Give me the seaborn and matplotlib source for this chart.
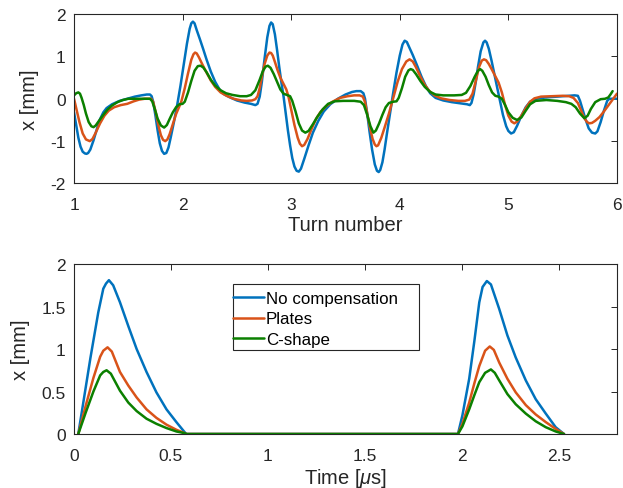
import matplotlib
matplotlib.use("Agg")
import matplotlib.pyplot as plt
from matplotlib.patches import Rectangle
from matplotlib.ticker import FixedLocator, FixedFormatter
import pandas as pd
import seaborn as sns

# ---------------------------------------------------------------- data
series_names = ["No compensation", "Plates", "C-shape"]
series_colors = ["#0072BD", "#D95319", "#0B8000"]

# Orbit excursion over five turns (turn number, x in mm)
turn_nocomp = [1.00, 1.02, 1.04, 1.06, 1.08, 1.10, 1.115, 1.13, 1.15, 1.18, 1.21, 1.24, 1.27, 1.30, 1.35,
               1.42, 1.49, 1.56, 1.62, 1.67, 1.70, 1.715, 1.73, 1.75, 1.77, 1.79, 1.81, 1.83, 1.85, 1.87,
               1.89, 1.92, 1.95, 1.98, 2.01, 2.04, 2.065, 2.08, 2.095, 2.11, 2.13, 2.16, 2.19, 2.22, 2.26,
               2.30, 2.34, 2.38, 2.43, 2.50, 2.57, 2.63, 2.67, 2.69, 2.71, 2.73, 2.755, 2.78, 2.80, 2.815,
               2.83, 2.85, 2.87, 2.89, 2.91, 2.93, 2.95, 2.97, 2.99, 3.01, 3.03, 3.05, 3.07, 3.09, 3.12,
               3.16, 3.20, 3.25, 3.30, 3.36, 3.43, 3.50, 3.56, 3.60, 3.64, 3.665, 3.68, 3.70, 3.72, 3.745,
               3.77, 3.79, 3.806, 3.82, 3.84, 3.86, 3.88, 3.91, 3.94, 3.97, 4.00, 4.025, 4.045, 4.065, 4.09,
               4.12, 4.16, 4.20, 4.24, 4.28, 4.33, 4.40, 4.48, 4.56, 4.62, 4.645, 4.66, 4.68, 4.70, 4.72,
               4.745, 4.77, 4.785, 4.80, 4.82, 4.845, 4.87, 4.89, 4.92, 4.95, 4.98, 5.00, 5.025, 5.05, 5.08,
               5.12, 5.16, 5.20, 5.26, 5.34, 5.45, 5.55, 5.61, 5.64, 5.66, 5.68, 5.71, 5.74, 5.77, 5.80,
               5.82, 5.85, 5.88, 5.91, 5.93, 6.00]
x_nocomp = [-0.32, -0.62, -0.92, -1.13, -1.25, -1.29, -1.30, -1.28, -1.20, -0.98, -0.72, -0.48, -0.32, -0.22, -0.13,
            -0.05, 0.00, 0.05, 0.08, 0.10, 0.10, 0.06, -0.08, -0.40, -0.75, -1.05, -1.23, -1.30, -1.28, -1.15,
            -0.92, -0.55, -0.15, 0.30, 0.80, 1.30, 1.65, 1.78, 1.82, 1.78, 1.62, 1.40, 1.17, 0.93, 0.64,
            0.40, 0.22, 0.11, 0.04, -0.04, -0.09, -0.12, -0.15, -0.12, 0.05, 0.40, 0.95, 1.45, 1.72, 1.80,
            1.76, 1.52, 1.15, 0.75, 0.38, 0.05, -0.35, -0.75, -1.10, -1.40, -1.60, -1.70, -1.72, -1.65, -1.42,
            -1.10, -0.80, -0.52, -0.30, -0.13, 0.00, 0.10, 0.16, 0.18, 0.18, 0.13, 0.00, -0.35, -0.75, -1.20,
            -1.55, -1.70, -1.73, -1.68, -1.50, -1.20, -0.85, -0.35, 0.15, 0.62, 1.02, 1.28, 1.37, 1.34, 1.20,
            1.03, 0.78, 0.52, 0.30, 0.13, 0.02, -0.04, -0.08, -0.11, -0.13, -0.15, -0.10, 0.10, 0.40, 0.75,
            1.12, 1.33, 1.37, 1.33, 1.18, 0.90, 0.60, 0.35, -0.02, -0.38, -0.65, -0.76, -0.82, -0.79, -0.64,
            -0.40, -0.20, -0.07, 0.00, 0.03, 0.05, 0.07, 0.08, 0.07, -0.05, -0.22, -0.48, -0.70, -0.80, -0.82,
            -0.77, -0.55, -0.28, -0.05, 0.00, 0.00]

turn_plates = [1.00, 1.02, 1.05, 1.08, 1.11, 1.145, 1.17, 1.20, 1.24, 1.28, 1.32, 1.37, 1.43, 1.49, 1.55,
               1.60, 1.65, 1.71, 1.73, 1.755, 1.78, 1.80, 1.82, 1.84, 1.86, 1.88, 1.91, 1.94, 1.97, 1.99,
               2.02, 2.05, 2.08, 2.10, 2.115, 2.13, 2.15, 2.18, 2.22, 2.26, 2.30, 2.35, 2.405, 2.47, 2.54,
               2.59, 2.64, 2.67, 2.69, 2.71, 2.73, 2.755, 2.78, 2.80, 2.815, 2.83, 2.85, 2.875, 2.90, 2.93,
               2.955, 2.975, 3.00, 3.03, 3.06, 3.08, 3.10, 3.12, 3.15, 3.19, 3.23, 3.27, 3.32, 3.38, 3.45,
               3.52, 3.58, 3.63, 3.66, 3.68, 3.70, 3.725, 3.75, 3.77, 3.785, 3.80, 3.83, 3.86, 3.90, 3.94,
               3.98, 4.02, 4.06, 4.09, 4.12, 4.15, 4.19, 4.23, 4.27, 4.32, 4.38, 4.46, 4.54, 4.60, 4.64,
               4.67, 4.70, 4.73, 4.755, 4.775, 4.795, 4.82, 4.85, 4.88, 4.91, 4.94, 4.97, 5.00, 5.03, 5.055,
               5.08, 5.12, 5.16, 5.20, 5.24, 5.30, 5.40, 5.50, 5.56, 5.60, 5.64, 5.67, 5.70, 5.725, 5.745,
               5.77, 5.80, 5.84, 5.88, 5.92, 5.96, 6.00]
x_plates = [0.00, -0.22, -0.55, -0.82, -0.96, -1.00, -0.95, -0.80, -0.58, -0.40, -0.28, -0.20, -0.15, -0.12, -0.06,
            -0.02, 0.00, 0.00, -0.08, -0.35, -0.66, -0.86, -0.97, -1.00, -0.96, -0.84, -0.60, -0.36, -0.18, -0.05,
            0.25, 0.60, 0.92, 1.05, 1.09, 1.07, 0.98, 0.82, 0.62, 0.43, 0.28, 0.15, 0.07, 0.00, -0.04,
            -0.05, -0.04, -0.01, 0.06, 0.25, 0.52, 0.82, 1.02, 1.09, 1.08, 1.02, 0.87, 0.67, 0.50, 0.35,
            0.22, 0.05, -0.25, -0.62, -0.92, -1.06, -1.12, -1.09, -0.95, -0.70, -0.47, -0.31, -0.18, -0.07, 0.02,
            0.06, 0.08, 0.08, 0.05, -0.08, -0.35, -0.68, -0.95, -1.08, -1.12, -1.10, -0.92, -0.68, -0.35, 0.02,
            0.40, 0.70, 0.88, 0.93, 0.88, 0.74, 0.52, 0.33, 0.19, 0.08, 0.01, -0.03, -0.05, -0.05, -0.02,
            0.12, 0.42, 0.75, 0.90, 0.93, 0.91, 0.82, 0.68, 0.53, 0.38, 0.15, -0.15, -0.40, -0.54, -0.58,
            -0.54, -0.40, -0.22, -0.07, 0.01, 0.05, 0.06, 0.07, 0.06, 0.02, -0.10, -0.28, -0.46, -0.55, -0.58,
            -0.57, -0.52, -0.43, -0.30, -0.16, -0.02, 0.12]

turn_cshape = [1.00, 1.02, 1.04, 1.055, 1.07, 1.09, 1.11, 1.135, 1.16, 1.18, 1.20, 1.23, 1.27, 1.31, 1.35,
               1.40, 1.45, 1.50, 1.60, 1.70, 1.72, 1.745, 1.77, 1.80, 1.83, 1.855, 1.88, 1.91, 1.94, 1.97,
               2.00, 2.02, 2.05, 2.08, 2.11, 2.14, 2.165, 2.19, 2.22, 2.26, 2.30, 2.35, 2.40, 2.46, 2.53,
               2.59, 2.63, 2.67, 2.71, 2.74, 2.765, 2.785, 2.81, 2.84, 2.87, 2.90, 2.93, 2.96, 2.99, 3.01,
               3.04, 3.07, 3.10, 3.13, 3.16, 3.20, 3.24, 3.29, 3.34, 3.40, 3.48, 3.58, 3.64, 3.67, 3.70,
               3.73, 3.757, 3.78, 3.81, 3.84, 3.87, 3.90, 3.94, 3.97, 3.99, 4.02, 4.05, 4.08, 4.10, 4.12,
               4.15, 4.19, 4.23, 4.28, 4.33, 4.40, 4.50, 4.57, 4.61, 4.65, 4.69, 4.72, 4.74, 4.76, 4.79,
               4.82, 4.85, 4.88, 4.91, 4.94, 4.97, 5.00, 5.04, 5.08, 5.12, 5.16, 5.20, 5.25, 5.35, 5.45,
               5.53, 5.58, 5.62, 5.66, 5.70, 5.73, 5.76, 5.80, 5.85, 5.89, 5.92, 5.94, 5.96]
x_cshape = [0.08, 0.13, 0.15, 0.12, 0.02, -0.15, -0.35, -0.55, -0.65, -0.67, -0.63, -0.52, -0.38, -0.25, -0.16,
            -0.08, -0.03, 0.00, 0.00, 0.00, -0.06, -0.25, -0.47, -0.63, -0.68, -0.62, -0.48, -0.32, -0.20, -0.13,
            -0.12, -0.07, 0.15, 0.42, 0.66, 0.77, 0.78, 0.74, 0.63, 0.45, 0.31, 0.20, 0.13, 0.09, 0.06,
            0.06, 0.09, 0.20, 0.45, 0.66, 0.76, 0.78, 0.73, 0.58, 0.40, 0.22, 0.12, 0.09, 0.06, -0.05,
            -0.30, -0.58, -0.75, -0.80, -0.76, -0.60, -0.43, -0.25, -0.12, -0.06, -0.05, -0.05, -0.07, -0.15, -0.38,
            -0.65, -0.80, -0.75, -0.58, -0.38, -0.20, -0.10, -0.07, -0.06, 0.02, 0.25, 0.52, 0.67, 0.70, 0.68,
            0.58, 0.42, 0.28, 0.16, 0.10, 0.08, 0.08, 0.09, 0.14, 0.30, 0.52, 0.66, 0.70, 0.66, 0.52,
            0.32, 0.15, 0.07, 0.05, 0.00, -0.15, -0.32, -0.45, -0.50, -0.44, -0.28, -0.13, -0.05, -0.03, -0.05,
            -0.08, -0.12, -0.20, -0.35, -0.46, -0.40, -0.24, -0.08, -0.01, 0.00, 0.03, 0.10, 0.18]

# Kicker-driven excursion in time (time in microseconds, x in mm)
time_nocomp = [0.022, 0.05, 0.085, 0.125, 0.151, 0.165, 0.18, 0.202, 0.237, 0.28, 0.323, 0.374, 0.425,
               0.477, 0.528, 0.571, 0.58, 1.98, 2.003, 2.038, 2.065, 2.09, 2.107, 2.129, 2.15, 2.193,
               2.235, 2.278, 2.33, 2.381, 2.433, 2.484, 2.527]
x_t_nocomp = [0.00, 0.40, 0.90, 1.43, 1.71, 1.77, 1.81, 1.75, 1.55, 1.27, 1.00, 0.73, 0.49,
              0.29, 0.14, 0.02, 0.00, 0.00, 0.22, 0.65, 1.10, 1.55, 1.73, 1.80, 1.76, 1.47,
              1.16, 0.90, 0.63, 0.41, 0.24, 0.08, 0.00]

time_plates = [0.022, 0.06, 0.10, 0.135, 0.151, 0.173, 0.195, 0.237, 0.28, 0.323, 0.374, 0.425, 0.477,
               0.528, 0.571, 0.58, 1.98, 2.003, 2.038, 2.065, 2.09, 2.12, 2.144, 2.165, 2.193, 2.235,
               2.278, 2.33, 2.381, 2.433, 2.484, 2.527]
x_t_plates = [0.00, 0.33, 0.66, 0.91, 0.98, 1.02, 0.97, 0.73, 0.57, 0.43, 0.29, 0.19, 0.11,
              0.05, 0.01, 0.00, 0.00, 0.12, 0.37, 0.60, 0.80, 0.98, 1.03, 0.99, 0.84, 0.65,
              0.49, 0.34, 0.23, 0.14, 0.06, 0.00]

time_cshape = [0.022, 0.06, 0.10, 0.135, 0.151, 0.168, 0.19, 0.237, 0.28, 0.323, 0.374, 0.425, 0.477,
               0.528, 0.571, 0.58, 1.98, 2.003, 2.038, 2.065, 2.09, 2.12, 2.15, 2.17, 2.193, 2.235,
               2.278, 2.33, 2.381, 2.433, 2.484, 2.527]
x_t_cshape = [0.00, 0.25, 0.50, 0.69, 0.73, 0.75, 0.71, 0.51, 0.37, 0.27, 0.18, 0.12, 0.07,
              0.03, 0.01, 0.00, 0.00, 0.09, 0.29, 0.46, 0.61, 0.72, 0.76, 0.72, 0.63, 0.47,
              0.35, 0.24, 0.15, 0.08, 0.03, 0.00]

turn_ticks = [1, 2, 3, 4, 5, 6]
turn_ticklabels = ["1", "2", "3", "4", "5", "6"]
xmm_ticks_top = [-2, -1, 0, 1, 2]
xmm_ticklabels_top = ["-2", "-1", "0", "1", "2"]
time_ticks = [0, 0.5, 1, 1.5, 2, 2.5]
time_ticklabels = ["0", "0.5", "1", "1.5", "2", "2.5"]
xmm_ticks_bottom = [0, 0.5, 1, 1.5, 2]
xmm_ticklabels_bottom = ["0", "0.5", "1", "1.5", "2"]

# ---------------------------------------------------------------- tables
def long_table(xs_list, ys_list, xname):
    frames = []
    for name, xs, ys in zip(series_names, xs_list, ys_list):
        frames.append(pd.DataFrame({xname: xs, "x [mm]": ys, "series": name}))
    return pd.concat(frames, ignore_index=True)

turns_df = long_table([turn_nocomp, turn_plates, turn_cshape],
                      [x_nocomp, x_plates, x_cshape], "turn")
time_df = long_table([time_nocomp, time_plates, time_cshape],
                     [x_t_nocomp, x_t_plates, x_t_cshape], "time")

# ---------------------------------------------------------------- style
sns.set_theme(style="white")
plt.rcParams["font.family"] = ["Liberation Sans", "DejaVu Sans"]
plt.rcParams["mathtext.fontset"] = "custom"
plt.rcParams["mathtext.rm"] = "Liberation Sans"
plt.rcParams["mathtext.it"] = "Liberation Sans:italic"
plt.rcParams["axes.linewidth"] = 0.8
plt.rcParams["lines.solid_joinstyle"] = "round"

axis_color = "#262626"
tick_size = 12.5
label_size = 14.5
legend_size = 12.2
palette = dict(zip(series_names, series_colors))

fig = plt.figure(figsize=(6.23, 4.89), dpi=100)
ax_top = fig.add_axes([0.1188, 0.6227, 0.8715, 0.3466])
ax_bot = fig.add_axes([0.1188, 0.1104, 0.8715, 0.3476])

sns.lineplot(data=turns_df, x="turn", y="x [mm]", hue="series", hue_order=series_names,
             palette=palette, estimator=None, sort=False, linewidth=1.8, legend=False, ax=ax_top)
sns.lineplot(data=time_df, x="time", y="x [mm]", hue="series", hue_order=series_names,
             palette=palette, estimator=None, sort=False, linewidth=1.8, legend=True, ax=ax_bot)


def style_axes(ax, xlim, ylim, xticks, xlabels, yticks, ylabels, xlabel, ylabel):
    ax.set_xlim(*xlim)
    ax.set_ylim(*ylim)
    ax.xaxis.set_major_locator(FixedLocator(xticks))
    ax.xaxis.set_major_formatter(FixedFormatter(xlabels))
    ax.yaxis.set_major_locator(FixedLocator(yticks))
    ax.yaxis.set_major_formatter(FixedFormatter(ylabels))
    ax.tick_params(axis="both", which="major", direction="in", top=True, right=True,
                   length=4.5, width=0.7, color=axis_color, labelcolor=axis_color,
                   labelsize=tick_size)
    ax.tick_params(axis="x", pad=10)
    ax.tick_params(axis="y", pad=6)
    for sp in ax.spines.values():
        sp.set_visible(True)
        sp.set_color(axis_color)
        sp.set_linewidth(0.8)
    ax.set_xlabel(xlabel, fontsize=label_size, color=axis_color, labelpad=2)
    ax.set_ylabel(ylabel, fontsize=label_size, color=axis_color, labelpad=8)
    ax.grid(False)


style_axes(ax_top, (1, 6), (-2, 2), turn_ticks, turn_ticklabels,
           xmm_ticks_top, xmm_ticklabels_top, "Turn number", "x [mm]")
style_axes(ax_bot, (0, 2.8), (0, 2), time_ticks, time_ticklabels,
           xmm_ticks_bottom, xmm_ticklabels_bottom, r"Time [$\mu$s]", "x [mm]")

# Legend with a rectangular frame
handles, labels = ax_bot.get_legend_handles_labels()
for h in handles:
    h.set_linewidth(1.8)
leg = ax_bot.legend(handles, labels, loc="upper left", bbox_to_anchor=(0.293, 0.842),
                    frameon=False, fontsize=legend_size, handlelength=1.8, handletextpad=0.12,
                    labelspacing=0.33, borderpad=0.0, borderaxespad=0.0)
for t in leg.get_texts():
    t.set_color("black")
ax_bot.add_patch(Rectangle((0.292, 0.494), 0.343, 0.388, transform=ax_bot.transAxes,
                           facecolor="none", edgecolor=axis_color, linewidth=0.8, zorder=5))

fig.savefig("out.png", dpi=100)
